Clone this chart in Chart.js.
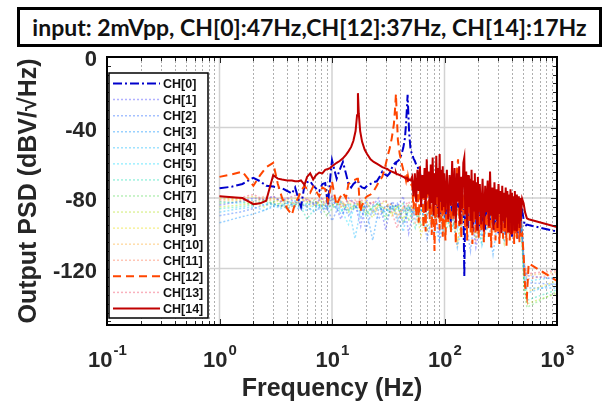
<!DOCTYPE html>
<html>
<head>
<meta charset="utf-8">
<script src="https://cdn.jsdelivr.net/npm/chart.js@4.4.1/dist/chart.umd.min.js"></script>
<style>
  html, body { margin: 0; padding: 0; background: #fff; }
  #wrap { position: relative; width: 614px; height: 415px; overflow: hidden; }
  #title {
    position: absolute; left: 17px; top: 7px; width: 579px; height: 34px;
    border: 3px solid #000; background: #fff; color: #111;
    font: bold 23px Lato, "Open Sans", sans-serif; text-align: center; line-height: 34px;
    white-space: nowrap;
  }
  canvas { position: absolute; left: 0; top: 0; }
</style>
</head>
<body>
<div id="wrap">
  <canvas id="psdChart" width="614" height="415"></canvas>
  <div id="title">input: 2mVpp, CH[0]:47Hz,CH[12]:37Hz, CH[14]:17Hz</div>
</div>
<script>
// ---------- data (dBV/rtHz) ----------
const freq = [
  // 1 - 10 Hz
  1, 1.3, 1.6, 2, 2.3, 2.6, 3, 3.3, 3.6, 4, 4.4, 4.7, 5, 5.3, 5.7, 6, 6.4, 6.8, 7.2, 7.7, 8.2, 8.7, 9.2, 9.6,
  // 10 - 50 Hz
  10, 10.5, 11, 11.7, 12.5, 13.3, 14, 14.8, 15.5, 16.2, 16.7, 17, 17.3, 17.8, 18.5, 19.5, 20.5, 22, 23.5, 25,
  26.5, 28, 29.5, 31, 32.5, 34, 35.5, 36.5, 37, 37.5, 38.5, 40, 41.5, 43, 44.5, 45.5, 46.5, 47, 47.5, 48.5, 50,
  // 50 - 100 Hz
  51.5, 53, 54.5, 56, 57.5, 59, 60.5, 62, 63.5, 65, 66.5, 68, 69.5, 71, 72.5, 74, 75.5, 77, 78.5, 80,
  81.5, 83, 84.5, 86, 87.5, 89, 90.5, 92, 93.5, 95, 96.5, 98, 99.5,
  // 100 - 200 Hz
  102, 105, 108, 111, 114, 117, 120, 123, 126, 129, 132, 135, 138, 141, 144, 147, 150, 153, 156, 159,
  162, 165, 168, 171, 174, 177, 180, 183, 186, 189, 192, 195, 198, 201,
  // 200 - 480 Hz
  206, 212, 218, 224, 230, 236, 242, 248, 254, 260, 266, 272, 278, 284, 290, 296, 302, 308, 314, 320,
  326, 332, 338, 344, 350, 356, 362, 368, 374, 380, 386, 392, 398, 404, 410, 416, 422, 428, 434, 440,
  446, 452, 458, 464, 470, 476,
  // roll-off
  490, 505, 520, 540, 560, 1000
];
const ch0 = [
  -74.5, -73.5, -72, -68.5, -70.5, -73, -73.5, -74, -74.5, -76, -77.5, -74, -80, -85, -72.5, -71, -70.5, -73, -74.5, -76, -72, -71.5, -84, -70,
  -58.5, -64, -69, -64, -59.5, -66, -72, -74, -72, -71, -70.5, -70, -71.5, -73, -74, -74.5, -73, -72, -71, -70.5,
  -68, -65, -66.5, -67.5, -66, -63, -61, -60, -60.5, -59.5, -59, -58, -55, -51.5, -46, -38, -27, -21.5, -29, -43, -53,
  -55, -57.5, -59, -61, -62, -64, -66, -69, -67, -72, -70, -75, -72, -78, -71, -81, -74, -77, -73, -84,
  -75, -80, -74, -88, -76, -82, -75, -90, -77, -83, -76, -86, -78,
  -92, -77, -85, -79, -94, -78, -87, -80, -91, -79, -86, -81, -95, -80, -88, -79, -124.5, -82, -90, -80,
  -97, -81, -88, -83, -93, -80, -99, -82, -89, -84, -95, -81, -91, -83,
  -96, -82, -90, -84, -98, -83, -92, -85, -97, -84, -91, -86, -99, -85, -93, -84, -100, -86, -92, -87,
  -98, -85, -94, -87, -101, -86, -93, -88, -99, -87, -95, -88, -102, -87, -94, -89, -100, -88, -96, -89,
  -103, -88, -95, -89, -101, -88,
  -87, -92, -96, -95, -95.3, -99
];
const ch12 = [
  -68, -66.5, -65, -73, -67, -62.5, -60, -72, -80, -86, -89.5, -83, -80, -76, -73, -75, -77, -73.5, -76, -79, -74, -75, -82, -76,
  -70.5, -78, -84, -80, -77, -80, -72, -71, -70, -69.5, -69, -69, -75, -88, -84, -80.5, -79, -78, -76, -73,
  -70, -68, -63, -57, -52, -46, -38, -28, -21, -30, -47, -55, -60, -64, -67, -70, -66, -72, -68, -71, -73,
  -72, -86, -70, -90, -69, -94, -73, -84, -71, -97, -74, -99, -70, -88, -76, -92, -72, -101, -75, -86,
  -110, -73, -95, -71, -89, -74, -98, -70, -93, -76, -102, -72, -90,
  -104, -73, -95, -75, -100, -70, -92, -74, -106, -64, -58, -96, -72, -103, -76, -90, -78, -98, -74, -104,
  -68, -93, -77, -100, -75, -106, -79, -94, -76, -101, -78, -97, -80, -103,
  -79, -99, -81, -105, -78, -96, -82, -102, -80, -108, -83, -97, -79, -104, -82, -99, -84, -106, -81, -98,
  -85, -103, -82, -100, -84, -107, -83, -97, -86, -104, -82, -101, -85, -98, -84, -106, -86, -100, -83, -103,
  -87, -99, -85, -105, -86, -101,
  -100, -112, -130, -136, -117, -127
];
const ch14 = [
  -79, -79.5, -80, -83.5, -83, -81.5, -67, -69, -69.5, -70, -70, -70.5, -70.5, -70, -72.5, -68, -66, -69.5, -67, -65.5, -66, -64, -63.5, -63,
  -62, -61, -60, -59, -57.5, -55.5, -53.5, -51, -47.5, -42, -33, -20.5, -32, -42, -48, -52.5, -55, -58, -59.5, -60.5,
  -61.5, -62.5, -63, -63.5, -64.5, -65, -65.5, -66, -65.5, -66.5, -66.5, -67, -67.5, -68, -68.5, -69, -68.5, -69, -70, -69.5, -70,
  -68, -79, -66, -82, -64, -76, -62, -85, -67, -80, -63, -88, -58, -78, -65, -86, -61, -83, -57, -90,
  -66, -84, -56, -79, -63, -91, -55, -82, -64, -87, -62, -85, -66,
  -88, -64, -92, -67, -84, -59, -90, -63, -94, -66, -82, -62, -95, -68, -86, -60, -57, -89, -65, -96,
  -67, -85, -69, -93, -64, -97, -70, -87, -66, -92, -71, -98, -68, -88,
  -72, -95, -69, -99, -73, -88, -70, -96, -65, -90, -74, -98, -71, -92, -75, -97, -72, -89, -76, -100,
  -73, -93, -77, -97, -74, -91, -76, -99, -78, -94, -75, -100, -77, -92, -79, -98, -76, -95, -78, -99,
  -80, -94, -79, -97, -80, -93,
  -80.5, -83, -88, -91.5, -92, -96.5
];

const freqFaint = [
  1, 1.5, 2, 2.5, 3, 3.5, 4, 5, 6, 7, 8, 9, 10, 12, 14, 16, 18, 20, 23, 26, 30, 34, 38, 43,
  48, 55, 62, 70, 80, 90, 100, 115, 130, 150, 170, 190, 215, 240, 270, 300, 340, 380, 430, 480, 510, 540, 1000
];
const ch1  = [-84,-82,-80,-81,-79,-82,-80,-83,-81,-84,-80,-86,-79,-92,-80,-83,-96,-81,-84,-80,-98,-82,-85,-79,-100,-83,-80,-90,-84,-104,-95,-85,-83,-97,-86,-108,-92,-87,-85,-99,-88,-86,-94,-89,-118,-124,-126];
const ch2  = [-90,-88,-86,-84,-83,-85,-82,-86,-84,-83,-88,-84,-93,-82,-90,-85,-83,-98,-86,-92,-84,-87,-83,-95,-86,-88,-84,-103,-87,-100,-86,-89,-96,-87,-110,-85,-102,-88,-91,-87,-97,-89,-92,-90,-121,-128,-129];
const ch3  = [-94,-91,-89,-87,-85,-84,-86,-83,-85,-88,-84,-87,-83,-89,-86,-84,-91,-85,-104,-86,-88,-84,-93,-87,-85,-90,-86,-96,-100,-85,-92,-87,-108,-89,-86,-94,-90,-88,-112,-91,-104,-95,-92,-90,-126,-131,-131];
const ch4  = [-88,-86,-85,-87,-84,-86,-83,-85,-87,-84,-86,-85,-81,-87,-84,-103,-86,-84,-89,-85,-87,-83,-90,-99,-84,-92,-87,-85,-94,-88,-86,-98,-89,-87,-93,-90,-107,-96,-91,-89,-100,-92,-90,-91,-123,-134,-128];
const ch5  = [-82,-83,-81,-84,-82,-80,-83,-81,-84,-82,-85,-83,-80,-86,-95,-84,-88,-83,-86,-82,-89,-84,-87,-83,-92,-85,-88,-84,-95,-104,-89,-85,-98,-87,-90,-86,-100,-88,-91,-87,-99,-89,-92,-90,-120,-127,-125];
const ch6  = [-86,-85,-84,-82,-84,-83,-85,-82,-92,-86,-83,-85,-84,-88,-83,-86,-84,-90,-85,-83,-93,-86,-84,-88,-85,-97,-87,-85,-91,-86,-102,-88,-86,-93,-87,-89,-105,-88,-90,-94,-89,-91,-98,-92,-128,-138,-132];
const ch7  = [-83,-82,-84,-81,-83,-85,-82,-84,-83,-81,-85,-90,-86,-82,-87,-84,-82,-89,-85,-83,-91,-86,-84,-94,-87,-85,-96,-88,-86,-92,-87,-99,-88,-90,-86,-103,-89,-87,-95,-90,-88,-101,-91,-93,-130,-142,-133];
const ch8  = [-85,-84,-83,-85,-82,-84,-86,-83,-85,-84,-82,-86,-84,-83,-88,-85,-83,-87,-91,-84,-86,-89,-85,-92,-84,-88,-86,-98,-87,-85,-90,-88,-104,-87,-89,-92,-88,-97,-90,-88,-106,-91,-89,-94,-132,-140,-134];
const ch9  = [-80,-81,-79,-82,-80,-83,-81,-80,-82,-84,-81,-83,-80,-85,-82,-86,-83,-81,-88,-84,-82,-90,-85,-83,-93,-86,-101,-89,-87,-85,-96,-88,-86,-92,-89,-87,-98,-90,-88,-95,-91,-89,-102,-92,-125,-133,-127];
const ch10 = [-82,-81,-83,-80,-82,-81,-84,-82,-80,-83,-85,-82,-84,-81,-86,-83,-85,-82,-88,-84,-86,-83,-90,-85,-87,-84,-93,-86,-88,-85,-97,-87,-106,-86,-95,-88,-90,-87,-100,-89,-91,-88,-96,-90,-116,-124,-122];
const ch11 = [-81,-80,-82,-79,-81,-80,-82,-83,-81,-80,-84,-82,-81,-85,-83,-81,-87,-84,-82,-89,-85,-83,-91,-86,-84,-94,-87,-85,-96,-88,-86,-90,-87,-101,-88,-86,-93,-89,-103,-97,-90,-88,-99,-91,-119,-126,-123];
const ch13 = [-79,-80,-78,-81,-79,-82,-80,-78,-81,-83,-80,-82,-79,-84,-81,-83,-80,-86,-82,-84,-81,-88,-97,-85,-82,-90,-84,-86,-83,-93,-85,-87,-84,-95,-86,-104,-85,-98,-87,-89,-86,-96,-88,-90,-117,-123,-121];

const channelLabels = ['CH[0]','CH[1]','CH[2]','CH[3]','CH[4]','CH[5]','CH[6]','CH[7]','CH[8]','CH[9]','CH[10]','CH[11]','CH[12]','CH[13]','CH[14]'];
const xDecades = [-1, 0, 1, 2, 3];
const yTicks = [0, -40, -80, -120];

// ---------- styles ----------
const channelValues = [ch0, ch1, ch2, ch3, ch4, ch5, ch6, ch7, ch8, ch9, ch10, ch11, ch12, ch13, ch14];
const channelColors = [
  '#0000cc',
  'rgba(70,70,255,0.42)', 'rgba(30,100,255,0.4)', 'rgba(0,140,255,0.4)', 'rgba(0,180,255,0.38)',
  'rgba(0,215,255,0.38)', 'rgba(0,220,170,0.38)', 'rgba(70,215,70,0.38)', 'rgba(170,220,0,0.38)',
  'rgba(235,220,0,0.4)', 'rgba(255,170,40,0.4)', 'rgba(255,110,70,0.4)',
  '#ff4500',
  'rgba(240,60,90,0.4)',
  '#c00000'
];
const mainDash = { 0: [9, 3, 2, 3], 12: [8, 5], 14: [] };
const drawOrder = { 14: 0, 12: 1, 0: 2 };

const datasets = channelValues.map((vals, i) => {
  const isMain = i in mainDash;
  const xs = isMain ? freq : freqFaint;
  return {
    label: channelLabels[i],
    data: vals.map((v, k) => ({ x: xs[k], y: v })),
    borderColor: channelColors[i],
    borderWidth: isMain ? 2 : 1.5,
    borderDash: isMain ? mainDash[i] : [2, 2],
    pointRadius: 0,
    tension: 0,
    fill: false,
    order: isMain ? drawOrder[i] : 3 + i
  };
});

const TEXT = '#262626';
const FONT = '"Liberation Sans", Arial, sans-serif';

// ---------- axes, grid, frame, legend ----------
const matlabAxes = {
  id: 'matlabAxes',
  beforeDatasetsDraw(chart) {
    const { ctx, chartArea: a, scales: { x, y } } = chart;
    ctx.save();
    // minor x grid (dotted)
    ctx.strokeStyle = 'rgba(110,110,110,0.55)';
    ctx.lineWidth = 1;
    ctx.setLineDash([2, 2]);
    xDecades.slice(0, -1).forEach(e => {
      for (let m = 2; m <= 9; m++) {
        const px = Math.round(x.getPixelForValue(m * Math.pow(10, e))) + 0.5;
        ctx.beginPath(); ctx.moveTo(px, a.top); ctx.lineTo(px, a.bottom); ctx.stroke();
      }
    });
    // major grid
    ctx.setLineDash([]);
    ctx.strokeStyle = '#d2d2d2';
    ctx.lineWidth = 1.5;
    xDecades.forEach(e => {
      const px = x.getPixelForValue(Math.pow(10, e));
      ctx.beginPath(); ctx.moveTo(px, a.top); ctx.lineTo(px, a.bottom); ctx.stroke();
    });
    yTicks.forEach(v => {
      const py = y.getPixelForValue(v);
      ctx.beginPath(); ctx.moveTo(a.left, py); ctx.lineTo(a.right, py); ctx.stroke();
    });
    ctx.restore();
  },
  afterDatasetsDraw(chart) {
    const { ctx, chartArea: a, scales: { x, y } } = chart;
    ctx.save();
    ctx.setLineDash([]);
    ctx.strokeStyle = TEXT;
    ctx.lineWidth = 1;
    // x ticks top & bottom
    xDecades.forEach((e, n) => {
      const ms = n < xDecades.length - 1 ? [1, 2, 3, 4, 5, 6, 7, 8, 9] : [1];
      ms.forEach(m => {
        const px = Math.round(x.getPixelForValue(m * Math.pow(10, e))) + 0.5;
        const len = m === 1 ? 6 : 4;
        ctx.beginPath();
        ctx.moveTo(px, a.bottom); ctx.lineTo(px, a.bottom - len);
        ctx.moveTo(px, a.top); ctx.lineTo(px, a.top + len);
        ctx.stroke();
      });
    });
    // y ticks left & right every 5 dB
    for (let v = 0; v >= y.min; v -= 5) {
      const py = Math.round(y.getPixelForValue(v)) + 0.5;
      const len = v % 40 === 0 ? 6 : 4;
      ctx.beginPath();
      ctx.moveTo(a.left, py); ctx.lineTo(a.left + len, py);
      ctx.moveTo(a.right, py); ctx.lineTo(a.right - len, py);
      ctx.stroke();
    }
    // box
    ctx.strokeStyle = '#000';
    ctx.lineWidth = 2;
    ctx.strokeRect(a.left, a.top, a.right - a.left, a.bottom - a.top);

    // y tick labels
    ctx.fillStyle = TEXT;
    ctx.font = 'bold 22px ' + FONT;
    ctx.textAlign = 'right';
    ctx.textBaseline = 'middle';
    yTicks.forEach(v => ctx.fillText(String(v), a.left - 10, y.getPixelForValue(v) + 3));

    // x tick labels 10^n
    ctx.textAlign = 'left';
    ctx.textBaseline = 'alphabetic';
    xDecades.forEach(e => {
      const px = x.getPixelForValue(Math.pow(10, e));
      ctx.font = 'bold 22px ' + FONT;
      const wb = ctx.measureText('10').width;
      ctx.font = 'bold 15px ' + FONT;
      const we = ctx.measureText(String(e)).width;
      const x0 = px - (wb + we) / 2;
      ctx.font = 'bold 22px ' + FONT;
      ctx.fillText('10', x0, a.bottom + 42);
      ctx.font = 'bold 15px ' + FONT;
      ctx.fillText(String(e), x0 + wb + 1, a.bottom + 30);
    });

    // axis titles
    ctx.font = 'bold 25px ' + FONT;
    ctx.textAlign = 'center';
    ctx.fillText('Frequency (Hz)', (a.left + a.right) / 2, a.bottom + 71);
    ctx.save();
    ctx.translate(29, (a.top + a.bottom) / 2);
    ctx.rotate(-Math.PI / 2);
    ctx.textBaseline = 'middle';
    ctx.fillText('Output PSD (dBV/\u221AHz)', 0, 0);
    ctx.restore();

    // legend box
    const lx = 109, ly = 73, lw = 99, lh = 245, rowH = 16.07;
    ctx.fillStyle = '#fff';
    ctx.fillRect(lx, ly, lw, lh);
    ctx.strokeStyle = '#000';
    ctx.lineWidth = 1.5;
    ctx.strokeRect(lx, ly, lw, lh);
    ctx.font = 'bold 12.5px ' + FONT;
    ctx.textAlign = 'left';
    ctx.textBaseline = 'middle';
    chart.data.datasets.forEach((ds, i) => {
      const cy = ly + 10.5 + i * rowH;
      ctx.strokeStyle = ds.borderColor;
      ctx.lineWidth = ds.borderWidth;
      ctx.setLineDash(ds.borderDash);
      ctx.beginPath(); ctx.moveTo(lx + 4, cy); ctx.lineTo(lx + 51, cy); ctx.stroke();
      ctx.setLineDash([]);
      ctx.fillStyle = '#111';
      ctx.fillText(ds.label, lx + 54, cy + 1);
    });
    ctx.restore();
  }
};

new Chart(document.getElementById('psdChart'), {
  type: 'line',
  data: { datasets },
  options: {
    responsive: false,
    animation: false,
    layout: { padding: { left: 99, right: 57, top: 57, bottom: 82 } },
    scales: {
      x: { type: 'logarithmic', min: 0.1, max: 1000, grid: { display: false }, border: { display: false }, ticks: { display: false } },
      y: { type: 'linear', min: -152, max: 0, grid: { display: false }, border: { display: false }, ticks: { display: false } }
    },
    plugins: { legend: { display: false }, tooltip: { enabled: false } }
  },
  plugins: [matlabAxes]
});
</script>
</body>
</html>
